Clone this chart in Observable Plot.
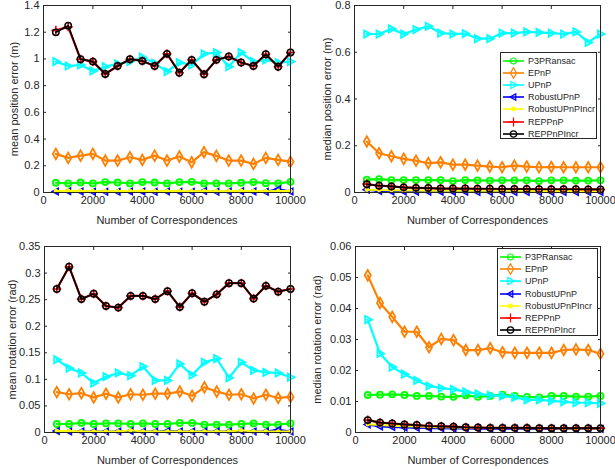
<!DOCTYPE html>
<html><head><meta charset="utf-8">
<script src="https://cdn.jsdelivr.net/npm/d3@7"></script>
<script src="https://cdn.jsdelivr.net/npm/@observablehq/plot@0.6"></script>
<style>
body{margin:0;background:#fff;}
#root{position:relative;width:615px;height:469px;font-family:"Liberation Sans",Arial,sans-serif;overflow:hidden;}
.panel{position:absolute;}
.legend{position:absolute;background:#fff;border:1px solid #262626;font-size:9px;color:#262626;box-sizing:border-box;}
.legend .row{position:absolute;left:0;height:12px;display:flex;align-items:center;white-space:nowrap;}
.legend svg{display:block;}
</style></head><body><div id="root"></div>
<script>
// ---- data ----
const correspondences = [500,1000,1500,2000,2500,3000,3500,4000,4500,5000,5500,6000,6500,7000,7500,8000,8500,9000,9500,10000];
const seriesNames = ["P3PRansac","EPnP","UPnP","RobustUPnP","RobustUPnPIncr","REPPnP","REPPnPIncr"];
const xTicks = [0,2000,4000,6000,8000,10000];
const xLabel = "Number of Correspondences";

const meanPosP3PRansac = [0.073,0.068,0.075,0.068,0.078,0.075,0.068,0.078,0.075,0.068,0.078,0.080,0.068,0.068,0.068,0.073,0.078,0.070,0.068,0.080];
const meanPosEPnP = [0.289,0.259,0.276,0.289,0.239,0.239,0.264,0.244,0.276,0.239,0.269,0.226,0.302,0.274,0.239,0.239,0.214,0.259,0.244,0.231];
const meanPosUPnP = [0.980,0.947,0.955,0.910,0.942,0.963,0.980,1.013,0.968,0.905,0.973,0.955,1.038,1.048,0.942,1.048,0.980,0.993,0.973,0.980];
const meanPosRobustUPnP = [0.008,0.010,0.007,0.006,0.005,0.006,0.007,0.008,0.006,0.007,0.006,0.005,0.012,0.006,0.007,0.010,0.008,0.006,0.025,0.008];
const meanPosRobustUPnPIncr = [0.012,0.014,0.012,0.011,0.010,0.011,0.012,0.013,0.010,0.011,0.012,0.010,0.011,0.010,0.011,0.014,0.011,0.010,0.012,0.011];
const meanPosREPPnP = [1.214,1.240,0.998,0.980,0.887,0.947,0.998,0.985,0.947,1.038,0.897,0.993,0.885,0.993,1.018,0.973,0.947,1.035,0.942,1.048];
const meanPosREPPnPIncr = [1.199,1.249,0.998,0.980,0.887,0.947,0.998,0.985,0.947,1.038,0.897,0.993,0.885,0.993,1.018,0.973,0.947,1.035,0.942,1.048];

const medPosP3PRansac = [0.055,0.057,0.053,0.053,0.053,0.053,0.053,0.049,0.053,0.052,0.051,0.052,0.052,0.052,0.049,0.052,0.052,0.051,0.051,0.052];
const medPosEPnP = [0.218,0.168,0.155,0.144,0.136,0.126,0.129,0.119,0.119,0.115,0.111,0.108,0.115,0.111,0.108,0.109,0.108,0.108,0.108,0.108];
const medPosUPnP = [0.678,0.678,0.700,0.678,0.697,0.711,0.682,0.678,0.680,0.658,0.658,0.682,0.682,0.687,0.685,0.682,0.678,0.687,0.642,0.678];
const medPosRobustUPnP = [0.012,0.006,0.004,0.004,0.003,0.003,0.003,0.003,0.003,0.002,0.002,0.002,0.002,0.002,0.002,0.002,0.002,0.002,0.002,0.002];
const medPosRobustUPnPIncr = [0.012,0.011,0.010,0.009,0.009,0.008,0.008,0.008,0.007,0.007,0.007,0.007,0.007,0.007,0.006,0.006,0.006,0.006,0.006,0.006];
const medPosREPPnP = [0.036,0.029,0.026,0.022,0.020,0.019,0.017,0.017,0.017,0.016,0.016,0.015,0.015,0.015,0.014,0.014,0.014,0.014,0.013,0.013];
const medPosREPPnPIncr = [0.035,0.029,0.026,0.022,0.020,0.019,0.017,0.017,0.017,0.016,0.016,0.015,0.015,0.015,0.014,0.014,0.014,0.014,0.013,0.013];

const meanRotP3PRansac = [0.016,0.016,0.018,0.016,0.017,0.017,0.016,0.017,0.016,0.016,0.018,0.018,0.015,0.015,0.015,0.016,0.017,0.015,0.015,0.017];
const meanRotEPnP = [0.076,0.072,0.074,0.066,0.073,0.066,0.072,0.071,0.073,0.073,0.077,0.069,0.085,0.077,0.071,0.072,0.064,0.071,0.065,0.067];
const meanRotUPnP = [0.137,0.121,0.112,0.093,0.105,0.112,0.107,0.124,0.098,0.098,0.129,0.108,0.132,0.139,0.103,0.132,0.117,0.113,0.112,0.104];
const meanRotRobustUPnP = [0.003,0.002,0.002,0.002,0.002,0.002,0.003,0.002,0.002,0.003,0.002,0.002,0.002,0.002,0.002,0.003,0.002,0.002,0.005,0.002];
const meanRotRobustUPnPIncr = [0.003,0.003,0.002,0.002,0.002,0.002,0.004,0.002,0.002,0.002,0.002,0.002,0.002,0.002,0.002,0.004,0.002,0.002,0.002,0.002];
const meanRotREPPnP = [0.270,0.312,0.251,0.261,0.238,0.235,0.257,0.257,0.251,0.266,0.236,0.262,0.246,0.260,0.281,0.281,0.252,0.276,0.265,0.270];
const meanRotREPPnPIncr = [0.270,0.312,0.251,0.261,0.238,0.235,0.257,0.257,0.251,0.266,0.236,0.262,0.246,0.260,0.281,0.281,0.252,0.276,0.265,0.270];

const medRotP3PRansac = [0.0121,0.0122,0.0123,0.0121,0.0118,0.0118,0.0116,0.0115,0.0120,0.0115,0.0118,0.0122,0.0118,0.0115,0.0113,0.0118,0.0118,0.0116,0.0116,0.0118];
const medRotEPnP = [0.0507,0.0418,0.0373,0.0325,0.0325,0.0275,0.0302,0.0298,0.0266,0.0266,0.0272,0.0259,0.0257,0.0257,0.0257,0.0257,0.0266,0.0268,0.0266,0.0254];
const medRotUPnP = [0.0364,0.0255,0.0211,0.0188,0.0168,0.0150,0.0143,0.0139,0.0131,0.0125,0.0120,0.0118,0.0113,0.0105,0.0105,0.0102,0.0099,0.0096,0.0096,0.0094];
const medRotRobustUPnP = [0.0026,0.0019,0.0018,0.0016,0.0015,0.0014,0.0014,0.0013,0.0013,0.0012,0.0012,0.0012,0.0012,0.0011,0.0011,0.0011,0.0011,0.0011,0.0011,0.0011];
const medRotRobustUPnPIncr = [0.0027,0.0024,0.0022,0.0020,0.0019,0.0018,0.0017,0.0016,0.0016,0.0015,0.0015,0.0015,0.0014,0.0014,0.0014,0.0014,0.0013,0.0013,0.0013,0.0013];
const medRotREPPnP = [0.0040,0.0032,0.0029,0.0026,0.0024,0.0021,0.0020,0.0019,0.0017,0.0016,0.0015,0.0015,0.0015,0.0015,0.0014,0.0014,0.0014,0.0014,0.0014,0.0014];
const medRotREPPnPIncr = [0.0040,0.0032,0.0029,0.0026,0.0024,0.0021,0.0020,0.0019,0.0017,0.0016,0.0015,0.0015,0.0015,0.0015,0.0014,0.0014,0.0014,0.0014,0.0014,0.0014];

const yTicksMeanPos = [0,0.2,0.4,0.6,0.8,1,1.2,1.4];
const yTicksMedPos = [0,0.2,0.4,0.6,0.8];
const yTicksMeanRot = [0,0.05,0.1,0.15,0.2,0.25,0.3,0.35];
const yTicksMedRot = [0,0.01,0.02,0.03,0.04,0.05,0.06];

// ---- styles ----
const triRight = {draw(ctx, size){const r=Math.sqrt(size/Math.PI)*1.25;ctx.moveTo(r,0);ctx.lineTo(-r*0.65,-r*0.9);ctx.lineTo(-r*0.65,r*0.9);ctx.closePath();}};
const triLeft = {draw(ctx, size){const r=Math.sqrt(size/Math.PI)*1.25;ctx.moveTo(-r,0);ctx.lineTo(r*0.65,-r*0.9);ctx.lineTo(r*0.65,r*0.9);ctx.closePath();}};
const styles = [
  {color:"#00ff00", symbol:"circle", fill:"none", r:3, lw:2.2, mw:1.8},
  {color:"#ff8000", symbol:"diamond", fill:"none", r:3.2, lw:2.2, mw:1.8},
  {color:"#00ffff", symbol:triRight, fill:"none", r:3.2, lw:2.2, mw:1.8},
  {color:"#0000ff", symbol:triLeft, fill:"none", r:2.8, lw:2, mw:1.6},
  {color:"#ffff00", symbol:"circle", fill:"#ffff00", r:1.8, lw:2, mw:1},
  {color:"#ff0000", symbol:"plus", fill:"none", r:3, lw:2.2, mw:1.6},
  {color:"#000000", symbol:"circle", fill:"none", r:3.2, lw:1.7, mw:1.5}
];
const fmt = d3.format("~g");
const ink = "#262626";

function panel({left, top, width, height, ml, mr, mt, mb, series, yDomain, yTicks, yLabel, yLabelDx}) {
  const marks = [
    Plot.axisX(xTicks, {anchor:"bottom", tickSize:-3, tickPadding:7, tickFormat:fmt, label:null, stroke:ink, fill:ink}),
    Plot.axisX(xTicks, {anchor:"top", tickSize:-3, tickFormat:()=>"", label:null, stroke:ink}),
    Plot.axisY(yTicks, {anchor:"left", tickSize:-3, tickPadding:7, tickFormat:fmt, label:null, stroke:ink, fill:ink}),
    Plot.axisY(yTicks, {anchor:"right", tickSize:-3, tickFormat:()=>"", label:null, stroke:ink}),
    Plot.text([xLabel], {frameAnchor:"bottom", dy:31, fill:ink, fontSize:11}),
    Plot.text([yLabel], {frameAnchor:"left", textAnchor:"middle", lineAnchor:"middle", dx:yLabelDx, rotate:-90, fill:ink, fontSize:11})
  ];
  series.forEach((vals, i) => {
    const s = styles[i];
    const rows = correspondences.map((x, j) => ({x, y: vals[j]}));
    marks.push(Plot.line(rows, {x:"x", y:"y", stroke:s.color, strokeWidth:s.lw}));
    marks.push(Plot.dot(rows, {x:"x", y:"y", stroke:s.color, fill:s.fill, symbol:s.symbol, r:s.r, strokeWidth:s.mw}));
  });
  marks.push(Plot.frame({stroke:ink, strokeWidth:1}));
  const svg = Plot.plot({
    width, height, marginLeft:ml, marginRight:mr, marginTop:mt, marginBottom:mb,
    style:{fontFamily:'"Liberation Sans",Arial,sans-serif', fontSize:"11px", color:ink, background:"transparent", overflow:"visible"},
    x:{domain:[0,10000]}, y:{domain:yDomain},
    marks
  });
  const d = document.createElement("div");
  d.className = "panel"; d.style.left = left+"px"; d.style.top = top+"px";
  d.appendChild(svg);
  document.getElementById("root").appendChild(d);
}

panel({left:0, top:0, width:307, height:235, ml:43, mr:17, mt:5, mb:43,
  series:[meanPosP3PRansac,meanPosEPnP,meanPosUPnP,meanPosRobustUPnP,meanPosRobustUPnPIncr,meanPosREPPnP,meanPosREPPnPIncr],
  yDomain:[0,1.4], yTicks:yTicksMeanPos, yLabel:"mean position error (m)", yLabelDx:-29});
panel({left:307, top:0, width:308, height:235, ml:47, mr:15, mt:5, mb:43,
  series:[medPosP3PRansac,medPosEPnP,medPosUPnP,medPosRobustUPnP,medPosRobustUPnPIncr,medPosREPPnP,medPosREPPnPIncr],
  yDomain:[0,0.8], yTicks:yTicksMedPos, yLabel:"median position error (m)", yLabelDx:-27});
panel({left:0, top:235, width:307, height:234, ml:44, mr:17, mt:11, mb:37,
  series:[meanRotP3PRansac,meanRotEPnP,meanRotUPnP,meanRotRobustUPnP,meanRotRobustUPnPIncr,meanRotREPPnP,meanRotREPPnPIncr],
  yDomain:[0,0.35], yTicks:yTicksMeanRot, yLabel:"mean rotation error (rad)", yLabelDx:-32});
panel({left:307, top:235, width:308, height:234, ml:48, mr:15, mt:11, mb:37,
  series:[medRotP3PRansac,medRotEPnP,medRotUPnP,medRotRobustUPnP,medRotRobustUPnPIncr,medRotREPPnP,medRotREPPnPIncr],
  yDomain:[0,0.06], yTicks:yTicksMedRot, yLabel:"median rotation error (rad)", yLabelDx:-38});

// ---- legends ----
function legend(left, top, w, h, firstY, step) {
  const box = document.createElement("div");
  box.className = "legend";
  Object.assign(box.style, {left:left+"px", top:top+"px", width:w+"px", height:h+"px"});
  seriesNames.forEach((name, i) => {
    const s = styles[i];
    const row = document.createElement("div");
    row.className = "row";
    row.style.top = (firstY + i*step - 6) + "px";
    const ns = "http://www.w3.org/2000/svg";
    const svg = document.createElementNS(ns, "svg");
    svg.setAttribute("width", 26); svg.setAttribute("height", 12);
    const line = document.createElementNS(ns, "line");
    Object.entries({x1:2, x2:23, y1:6, y2:6, stroke:s.color, "stroke-width":1.6}).forEach(([k,v])=>line.setAttribute(k,v));
    svg.appendChild(line);
    const p = document.createElementNS(ns, "path");
    const type = typeof s.symbol === "string" ? ({circle:d3.symbolCircle, diamond:d3.symbolDiamond, plus:d3.symbolPlus})[s.symbol] : s.symbol;
    p.setAttribute("d", d3.symbol(type, Math.PI*s.r*s.r)());
    p.setAttribute("transform", "translate(12.5,6)");
    p.setAttribute("fill", s.fill); p.setAttribute("stroke", s.color); p.setAttribute("stroke-width", 1.2);
    svg.appendChild(p);
    row.appendChild(svg);
    const t = document.createElement("span");
    t.textContent = name;
    t.style.marginLeft = "1px";
    row.appendChild(t);
    box.appendChild(row);
  });
  document.getElementById("root").appendChild(box);
}
legend(500, 52, 97, 87, 8, 12.1);
legend(497, 248, 101, 88, 8, 12.2);
</script>
</body></html>
